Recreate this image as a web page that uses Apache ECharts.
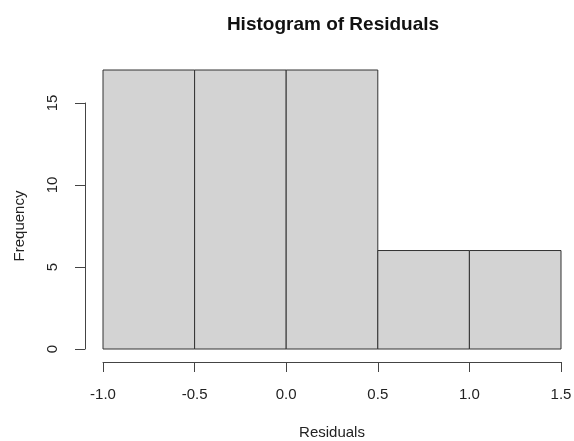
<!DOCTYPE html>
<html><head><meta charset="utf-8">
<script src="https://cdn.jsdelivr.net/npm/echarts@6/dist/echarts.min.js"></script>
<style>html,body{margin:0;padding:0;background:#fff}#c{width:574px;height:441px}</style>
</head><body><div id="c"></div>
<script>
var binStarts = [-1.0, -0.5, 0.0, 0.5, 1.0];
var binEnds = [-0.5, 0.0, 0.5, 1.0, 1.5];
var counts = [17, 17, 17, 6, 6];
var xTicks = [-1.0, -0.5, 0.0, 0.5, 1.0, 1.5];
var yTicks = [0, 5, 10, 15];

var chart = echarts.init(document.getElementById('c'));
var font = 'Liberation Sans, Arial, sans-serif';
var data = binStarts.map(function (s, i) { return [s, binEnds[i], counts[i]]; });
chart.setOption({
  animation: false,
  title: {
    text: 'Histogram of Residuals', left: 328, top: 10, textAlign: 'center',
    textStyle: { fontFamily: font, fontSize: 19, fontWeight: 'bold', color: '#111' }
  },
  grid: [
    { left: 103, width: 458, top: 70, bottom: 92, outerBoundsMode: 'none', containLabel: false },
    { left: 103, width: 458, top: 103, bottom: 92, outerBoundsMode: 'none', containLabel: false }
  ],
  xAxis: [
    {
      gridIndex: 0, type: 'value', min: xTicks[0], max: xTicks[xTicks.length - 1], interval: 0.5,
      offset: 13, name: 'Residuals', nameLocation: 'middle', nameGap: 63,
      nameTextStyle: { fontFamily: font, fontSize: 15, color: '#222' },
      axisLine: { show: true, onZero: false, lineStyle: { color: '#444', width: 1 } },
      axisTick: { show: true, length: 10, lineStyle: { color: '#444' } },
      axisLabel: { fontFamily: font, fontSize: 15, color: '#222', margin: 25,
        formatter: function (v) { return v.toFixed(1); } },
      splitLine: { show: false }
    },
    { gridIndex: 1, type: 'value', min: -1, max: 1.5, show: false, axisLine: { onZero: false } }
  ],
  yAxis: [
    { gridIndex: 0, type: 'value', min: 0, max: 17, show: false, axisLine: { onZero: false } },
    {
      gridIndex: 1, type: 'value', min: yTicks[0], max: yTicks[yTicks.length - 1], interval: 5,
      offset: 18, name: 'Frequency', nameLocation: 'middle', nameGap: 58, nameRotate: 90,
      nameTextStyle: { fontFamily: font, fontSize: 15, color: '#222' },
      axisLine: { show: true, onZero: false, lineStyle: { color: '#444', width: 1 } },
      axisTick: { show: true, length: 10, lineStyle: { color: '#444' } },
      axisLabel: { fontFamily: font, fontSize: 15, color: '#222', margin: 25, rotate: 90 },
      splitLine: { show: false }
    }
  ],
  series: [{
    type: 'custom', xAxisIndex: 0, yAxisIndex: 0, data: data,
    renderItem: function (params, api) {
      var p0 = api.coord([api.value(0), 0]);
      var p1 = api.coord([api.value(1), api.value(2)]);
      return {
        type: 'rect',
        shape: { x: p0[0], y: p1[1], width: p1[0] - p0[0], height: p0[1] - p1[1] },
        style: { fill: '#d3d3d3', stroke: '#333', lineWidth: 1 }
      };
    }
  }]
});
</script></body></html>
